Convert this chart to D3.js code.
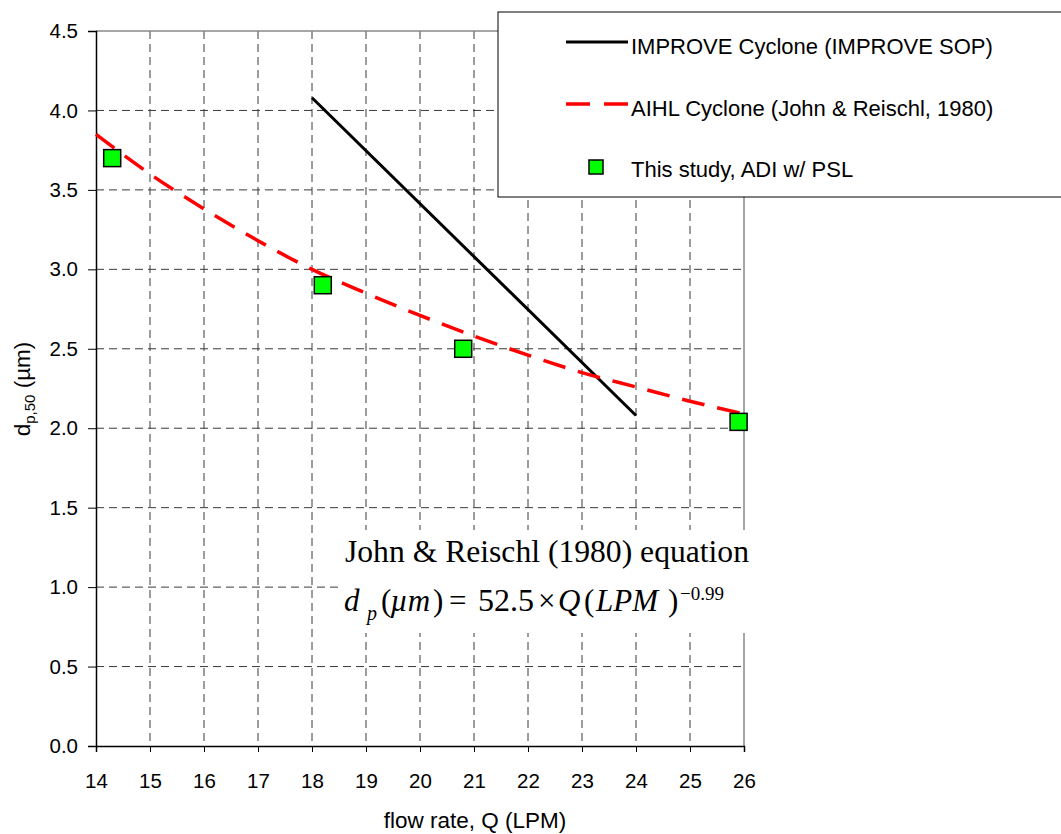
<!DOCTYPE html>
<html><head>
<meta charset="utf-8">
<script src="https://d3js.org/d3.v7.min.js"></script>
<style>
  body { margin: 0; background: #fff; }
  svg text { font-family: "Liberation Sans", Arial, sans-serif; fill: #000; }
  svg text.serif { font-family: "Liberation Serif", "Times New Roman", serif; }
</style>
</head>
<body>
<svg id="plot" width="1061" height="834"></svg>
<script>
// ---- data ----
const improveQ  = [18, 24];
const improveDp = [4.08, 2.08];

const aihlQ  = [14, 15, 16, 17, 18, 19, 20, 21, 22, 23, 24, 25, 26];
const aihlDp = [3.85, 3.60, 3.38, 3.18, 3.00, 2.85, 2.71, 2.58, 2.46, 2.35, 2.26, 2.17, 2.09];

const studyQ  = [14.3, 18.2, 20.8, 25.9];
const studyDp = [3.70, 2.90, 2.50, 2.04];

const xTicks = [14, 15, 16, 17, 18, 19, 20, 21, 22, 23, 24, 25, 26];
const yTicks = [0, 0.5, 1.0, 1.5, 2.0, 2.5, 3.0, 3.5, 4.0, 4.5];

const legendLabels = ["IMPROVE Cyclone (IMPROVE SOP)", "AIHL Cyclone (John & Reischl, 1980)", "This study, ADI w/ PSL"];

const svg = d3.select("svg#plot");
const margin = {top: 31, right: 317, bottom: 88, left: 96};
const width = 1061, height = 834;
const chartWidth = width - margin.left - margin.right;
const chartHeight = height - margin.top - margin.bottom;

const x = d3.scaleLinear().domain([14, 26]).range([0, chartWidth]);
const y = d3.scaleLinear().domain([0, 4.5]).range([chartHeight, 0]);

let chart = svg.append("g")
  .attr("transform", "translate(" + margin.left + "," + margin.top + ")");

// grid
chart.append("g").selectAll("line")
  .data(xTicks.slice(1, -1)).join("line")
  .attr("x1", d => x(d)).attr("x2", d => x(d))
  .attr("y1", 0).attr("y2", chartHeight)
  .attr("stroke", "#3a3a3a").attr("stroke-width", 1).attr("stroke-dasharray", "8,5");
chart.append("g").selectAll("line")
  .data(yTicks.slice(1, -1)).join("line")
  .attr("x1", 0).attr("x2", chartWidth)
  .attr("y1", d => y(d)).attr("y2", d => y(d))
  .attr("stroke", "#3a3a3a").attr("stroke-width", 1).attr("stroke-dasharray", "8,5");

// top and right borders (gray)
chart.append("line").attr("x1", 0).attr("x2", chartWidth).attr("y1", 0).attr("y2", 0)
  .attr("stroke", "#888").attr("stroke-width", 1.5);
chart.append("line").attr("x1", chartWidth).attr("x2", chartWidth).attr("y1", 0).attr("y2", chartHeight)
  .attr("stroke", "#888").attr("stroke-width", 1.5);

// axes
const xAxis = chart.append("g")
  .attr("transform", "translate(0," + chartHeight + ")")
  .call(d3.axisBottom(x).tickValues(xTicks).tickSize(6).tickPadding(21).tickFormat(d3.format("d")));
const yAxis = chart.append("g")
  .call(d3.axisLeft(y).tickValues(yTicks).tickSize(8).tickPadding(10).tickFormat(d3.format(".1f")));
[xAxis, yAxis].forEach(a => {
  a.select(".domain").attr("stroke", "#000").attr("stroke-width", 1.5);
  a.selectAll(".tick line").attr("stroke", "#000").attr("stroke-width", 1);
  a.selectAll(".tick text").style("font-family", "'Liberation Sans', Arial, sans-serif")
    .style("font-size", "20.5px").attr("fill", "#000");
});

// annotation box (covers the grid behind the equation)
svg.append("rect")
  .attr("x", 338).attr("y", 530).attr("width", 420).attr("height", 103)
  .attr("fill", "#fff");
svg.append("text").attr("class", "serif")
  .attr("x", 345).attr("y", 562)
  .attr("textLength", 404).attr("lengthAdjust", "spacingAndGlyphs")
  .style("font-size", "31px")
  .text("John & Reischl (1980) equation");

const eqParts = [
  {t: "d",     x: 344, dy: 0,   it: true,  fs: 31},
  {t: "p",     x: 367, dy: 9,   it: true,  fs: 20},
  {t: "(",     x: 381, dy: 0,   it: false, fs: 31},
  {t: "µm",    x: 390, dy: 0,   it: true,  fs: 31},
  {t: ")",     x: 433, dy: 0,   it: false, fs: 31},
  {t: "=",     x: 449, dy: 0,   it: false, fs: 31},
  {t: "52.5",  x: 478, dy: 0,   it: false, fs: 32},
  {t: "×",     x: 538, dy: 0,   it: false, fs: 31},
  {t: "Q",     x: 558, dy: 0,   it: true,  fs: 31},
  {t: "(",     x: 584, dy: 0,   it: false, fs: 31},
  {t: "LPM",   x: 596, dy: 0,   it: true,  fs: 31},
  {t: ")",     x: 668, dy: 0,   it: false, fs: 31},
  {t: "−0.99", x: 680, dy: -11, it: false, fs: 19}
];
svg.append("g").selectAll("text").data(eqParts).join("text")
  .attr("class", "serif")
  .attr("x", d => d.x).attr("y", d => 611 + d.dy)
  .style("font-size", d => d.fs + "px")
  .style("font-style", d => d.it ? "italic" : "normal")
  .text(d => d.t);

// series
const line = d3.line().x(d => x(d[0])).y(d => y(d[1]));
chart.append("path")
  .datum(improveQ.map((q, i) => [q, improveDp[i]]))
  .attr("d", line).attr("fill", "none")
  .attr("stroke", "#000").attr("stroke-width", 3);
chart.append("path")
  .datum(aihlQ.map((q, i) => [q, aihlDp[i]]))
  .attr("d", line.curve(d3.curveMonotoneX)).attr("fill", "none")
  .attr("stroke", "#ff0000").attr("stroke-width", 3.5).attr("stroke-dasharray", "23,13");
chart.selectAll("rect.pt")
  .data(studyQ.map((q, i) => [q, studyDp[i]])).join("rect")
  .attr("class", "pt")
  .attr("x", d => x(d[0]) - 8.5).attr("y", d => y(d[1]) - 8.5)
  .attr("width", 17).attr("height", 17)
  .attr("fill", "#00ff00").attr("stroke", "#000").attr("stroke-width", 1.5);

// axis titles
svg.append("text")
  .attr("x", 475).attr("y", 828).attr("text-anchor", "middle")
  .style("font-size", "22.5px").text("flow rate, Q (LPM)");
const yt = svg.append("text")
  .attr("transform", "translate(30,389) rotate(-90)").attr("text-anchor", "middle")
  .style("font-size", "22.5px");
yt.append("tspan").text("d");
yt.append("tspan").style("font-size", "15px").attr("dy", 5).text("p,50");
yt.append("tspan").attr("dy", -5).text(" (µm)");

// legend
const lg = svg.append("g");
lg.append("rect").attr("x", 498).attr("y", 12).attr("width", 600).attr("height", 185)
  .attr("fill", "#fff").attr("stroke", "#000").attr("stroke-width", 1);
const rows = [42, 104, 167];
lg.append("line").attr("x1", 566).attr("x2", 628).attr("y1", rows[0]).attr("y2", rows[0])
  .attr("stroke", "#000").attr("stroke-width", 3);
lg.append("line").attr("x1", 566).attr("x2", 628).attr("y1", rows[1]).attr("y2", rows[1])
  .attr("stroke", "#ff0000").attr("stroke-width", 3.5).attr("stroke-dasharray", "24,14");
lg.append("rect").attr("x", 589).attr("y", rows[2] - 7).attr("width", 14).attr("height", 14)
  .attr("fill", "#00ff00").attr("stroke", "#000").attr("stroke-width", 1.5);
lg.selectAll("text.lg").data(legendLabels).join("text")
  .attr("class", "lg")
  .attr("x", 631).attr("y", (d, i) => [54, 116, 177][i])
  .style("font-size", "22px").text(d => d);
</script>
</body></html>
